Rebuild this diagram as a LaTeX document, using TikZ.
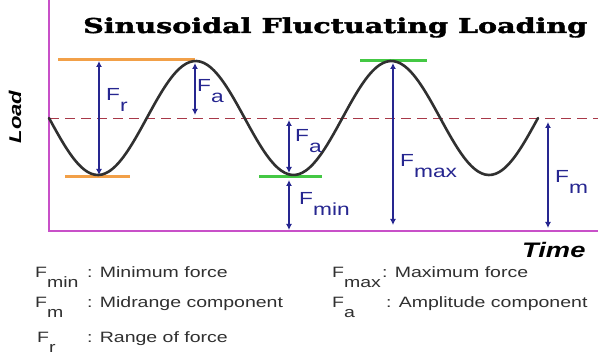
\documentclass[tikz,border=0pt]{standalone}
\usepackage{fontspec}
\setmainfont{Liberation Sans}
\newfontfamily\titlefont{DejaVu Serif}[BoldFeatures={FakeBold=1.6}]
\usepackage{graphicx}
\usetikzlibrary{arrows.meta}
\definecolor{axiscol}{HTML}{C850C8}
\definecolor{meancol}{HTML}{A83848}
\definecolor{wavecol}{HTML}{303030}
\definecolor{orangecol}{HTML}{F2A048}
\definecolor{greencol}{HTML}{44C844}
\definecolor{navy}{HTML}{262690}
\definecolor{legcol}{HTML}{303030}
\newcommand\hstretch[1]{\scalebox{1.3}[1]{#1}}
\newcommand\flab[1]{\hstretch{F\raisebox{-11pt}{#1}}}
\newcommand\flg[1]{\hstretch{F\raisebox{-10pt}{#1}}}
\tikzset{
  axisline/.style={draw=axiscol, line width=1.5pt},
  meanline/.style={draw=meancol, line width=0.9pt, dash pattern=on 10pt off 6pt},
  wave/.style={draw=wavecol, line width=2.6pt, line cap=round},
  orangebar/.style={draw=orangecol, line width=3pt},
  greenbar/.style={draw=greencol, line width=3pt},
  dimarrow/.style={draw=navy, line width=1.2pt, {Latex[length=6pt,width=6pt]}-{Latex[length=6pt,width=6pt]}},
  flabel/.style={text=navy, font=\fontsize{17.5}{20}\selectfont, anchor=base west, inner sep=0pt},
  legend/.style={text=legcol, font=\fontsize{15}{18}\selectfont, anchor=base west, inner sep=0pt},
}
\begin{document}
\begin{tikzpicture}[x=1pt, y=-1pt]
\useasboundingbox (0,0) rectangle (598,358);
\fill[white] (0,0) rectangle (598,358);

% axes
\coordinate (ytop) at (49,0);
\coordinate (orig) at (49,231);
\coordinate (xend) at (598,231);
\draw[axisline] (ytop) -- (orig) -- (xend);

% mean line
\coordinate (mL) at (49,118);
\coordinate (mR) at (598,118);
\draw[meanline] (mL) -- (mR);

% orange and green bars
\coordinate (o1a) at (58,60);  \coordinate (o1b) at (195,60);
\coordinate (o2a) at (65,177); \coordinate (o2b) at (130,177);
\coordinate (g1a) at (259,177); \coordinate (g1b) at (322,177);
\coordinate (g2a) at (360,61);  \coordinate (g2b) at (427,61);
\draw[orangebar] (o1a) -- (o1b);
\draw[orangebar] (o2a) -- (o2b);
\draw[greenbar] (g1a) -- (g1b);
\draw[greenbar] (g2a) -- (g2b);

% wave
\draw[wave] plot[domain=49:538, samples=140, smooth] (\x, {118+57*sin((\x-49)*1.84049)});

% dimension arrows
\coordinate (frT) at (99,61);   \coordinate (frB) at (99,175);
\coordinate (faT1) at (195,63); \coordinate (faB1) at (195,115);
\coordinate (faT2) at (289,120); \coordinate (faB2) at (289,173);
\coordinate (fnT) at (289,180); \coordinate (fnB) at (289,230);
\coordinate (fxT) at (393,63);  \coordinate (fxB) at (393,225);
\coordinate (fmT) at (548,122); \coordinate (fmB) at (548,228);
\draw[dimarrow] (frT) -- (frB);
\draw[dimarrow] (faT1) -- (faB1);
\draw[dimarrow] (faT2) -- (faB2);
\draw[dimarrow] (fnT) -- (fnB);
\draw[dimarrow] (fxT) -- (fxB);
\draw[dimarrow] (fmT) -- (fmB);

% plot labels
\node[flabel] (lfr) at (106,101) {\flab{r}};
\node[flabel] (lfa1) at (197,92) {\flab{a}};
\node[flabel] (lfa2) at (295,142) {\flab{a}};
\node[flabel] (lfmin) at (299,205) {\flab{min}};
\node[flabel] (lfmax) at (400,167) {\flab{max}};
\node[flabel] (lfm) at (555,183) {\flab{m}};

% title
\node[anchor=base west, inner sep=0pt] (title) at (83,33)
  {\resizebox{504pt}{\height}{\fontsize{20.5}{24}\titlefont\bfseries Sinusoidal Fluctuating Loading}};

% axis titles
\node[rotate=90, inner sep=0pt] (load) at (15,117)
  {\fontsize{17}{20}\selectfont\bfseries\itshape\hstretch{Load}};
\node[anchor=base west, inner sep=0pt] (time) at (522,258)
  {\fontsize{21}{24}\selectfont\bfseries\itshape\hstretch{Time}};

% legend
\node[legend] (k1) at (35,278) {\flg{min}};
\node[legend] (d1) at (87,278) {\hstretch{: Minimum force}};
\node[legend] (k2) at (35,308) {\flg{m}};
\node[legend] (d2) at (87,308) {\hstretch{: Midrange component}};
\node[legend] (k3) at (37,343) {\flg{r}};
\node[legend] (d3) at (87,343) {\hstretch{: Range of force}};
\node[legend] (k4) at (332,278) {\flg{max}};
\node[legend] (d4) at (382,278) {\hstretch{: Maximum force}};
\node[legend] (k5) at (332,308) {\flg{a}};
\node[legend] (d5) at (386,308) {\hstretch{: Amplitude component}};
\end{tikzpicture}
\end{document}
